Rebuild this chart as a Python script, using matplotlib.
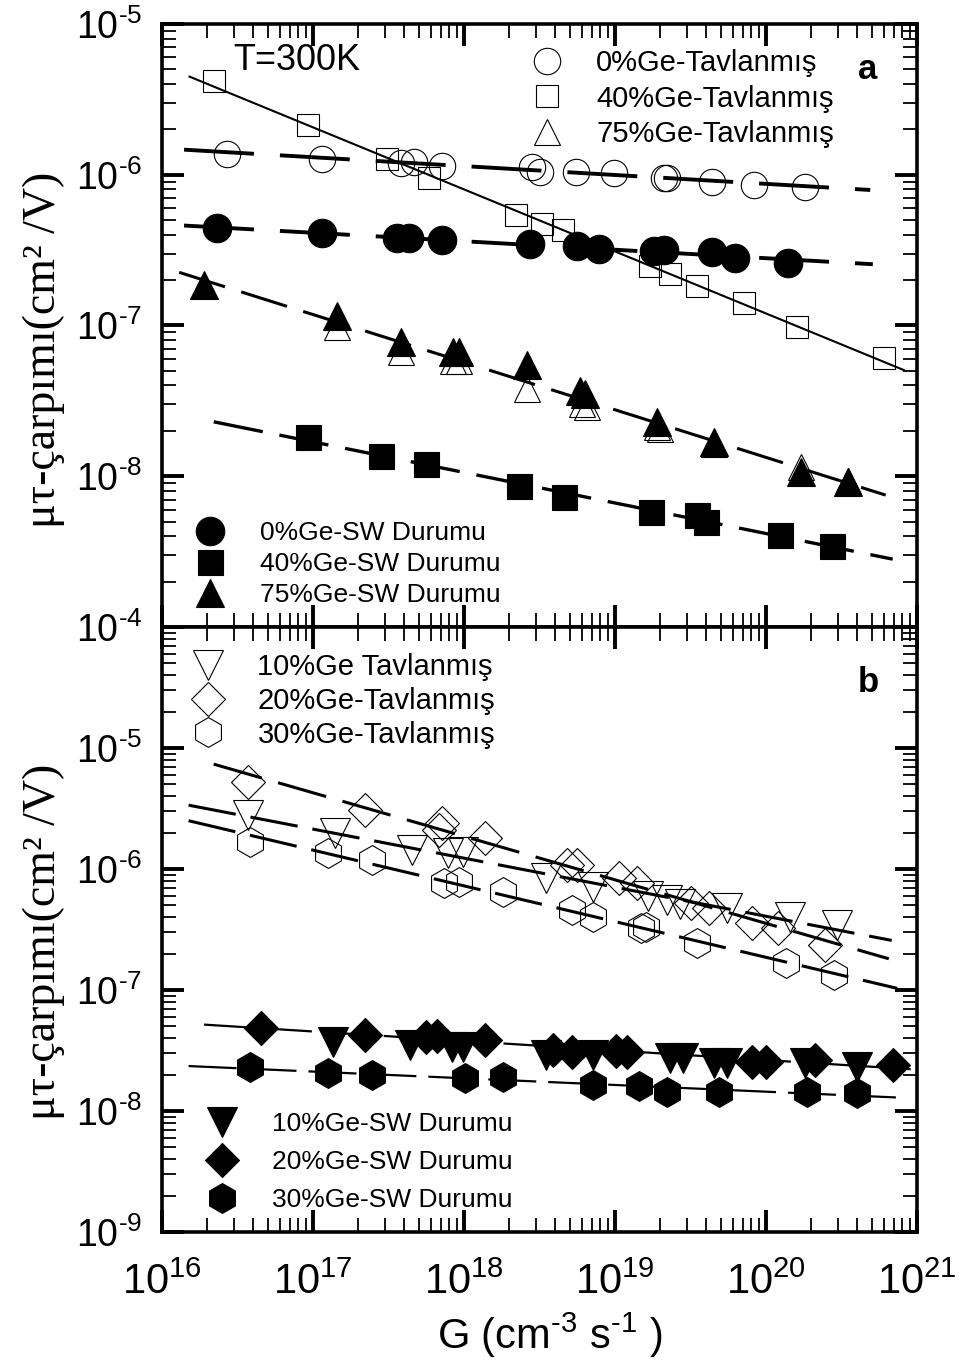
import numpy as np
import matplotlib
matplotlib.use("Agg")
import matplotlib.pyplot as plt
from matplotlib.lines import Line2D
from matplotlib.ticker import LogLocator, NullFormatter
from matplotlib import font_manager

_names = {f.name for f in font_manager.fontManager.ttflist}
NARROW = 'Liberation Sans Narrow' if 'Liberation Sans Narrow' in _names else 'Liberation Sans'

plt.rcParams['font.family'] = ['Liberation Sans', 'DejaVu Sans']
plt.rcParams['mathtext.fontset'] = 'custom'
plt.rcParams['mathtext.rm'] = 'Liberation Sans'
plt.rcParams['mathtext.it'] = 'Liberation Sans'
plt.rcParams['mathtext.sf'] = NARROW

# ---------------- panel a data ----------------
g_ann0 = [2.7e16, 1.15e17, 3.8e17, 4.7e17, 7.2e17, 2.8e18, 3.2e18, 5.5e18, 9.8e18, 2.1e19, 2.2e19, 4.4e19, 8.3e19, 1.8e20]
mt_ann0 = [1.38e-6, 1.28e-6, 1.20e-6, 1.22e-6, 1.15e-6, 1.13e-6, 1.05e-6, 1.05e-6, 1.03e-6, 9.5e-7, 9.5e-7, 9.0e-7, 8.6e-7, 8.3e-7]

g_sw0 = [2.3e16, 1.15e17, 3.6e17, 4.3e17, 7.1e17, 2.75e18, 5.6e18, 7.8e18, 1.8e19, 2.1e19, 4.4e19, 6.2e19, 1.4e20]
mt_sw0 = [4.4e-7, 4.1e-7, 3.8e-7, 3.8e-7, 3.7e-7, 3.45e-7, 3.35e-7, 3.2e-7, 3.1e-7, 3.15e-7, 3.05e-7, 2.8e-7, 2.6e-7]

g_ann40 = [2.2e16, 9.3e16, 3.1e17, 5.9e17, 2.2e18, 3.3e18, 4.5e18, 1.7e19, 2.3e19, 3.5e19, 7.1e19, 1.6e20, 6.0e20]
mt_ann40 = [4.2e-6, 2.14e-6, 1.28e-6, 9.5e-7, 5.4e-7, 4.7e-7, 4.3e-7, 2.5e-7, 2.2e-7, 1.84e-7, 1.42e-7, 9.8e-8, 6.1e-8]

g_sw40 = [9.3e16, 2.8e17, 5.6e17, 2.3e18, 4.6e18, 1.74e19, 3.5e19, 4.0e19, 1.23e20, 2.75e20]
mt_sw40 = [1.81e-8, 1.36e-8, 1.2e-8, 8.6e-9, 7.3e-9, 5.8e-9, 5.5e-9, 4.95e-9, 4.06e-9, 3.44e-9]

g_sw75 = [1.9e16, 1.45e17, 3.8e17, 8.5e17, 9.3e17, 2.6e18, 5.9e18, 6.3e18, 1.9e19, 4.5e19, 1.7e20, 3.5e20]
mt_sw75 = [1.87e-7, 1.15e-7, 7.8e-8, 6.7e-8, 6.7e-8, 5.5e-8, 3.65e-8, 3.5e-8, 2.3e-8, 1.7e-8, 1.06e-8, 9.1e-9]

g_ann75 = [1.45e17, 3.8e17, 8.5e17, 9.3e17, 2.6e18, 6.0e18, 6.5e18, 1.9e19, 2.0e19, 4.5e19, 1.7e20, 3.5e20]
mt_ann75 = [9.7e-8, 6.7e-8, 5.8e-8, 5.8e-8, 3.77e-8, 3.0e-8, 2.86e-8, 2.11e-8, 2.05e-8, 1.63e-8, 1.15e-8, 9.3e-9]

# ---------------- panel b data ----------------
g_ann20 = [3.7e16, 2.2e17, 6.8e17, 7.2e17, 1.38e18, 4.8e18, 5.6e18, 1.07e19, 1.4e19, 3.2e19, 4.2e19, 8.1e19, 1.2e20, 2.45e20]
mt_ann20 = [5.2e-6, 3.1e-6, 2.1e-6, 2.4e-6, 1.8e-6, 1.08e-6, 1.08e-6, 8.4e-7, 7.7e-7, 5.2e-7, 4.8e-7, 3.6e-7, 3.25e-7, 2.35e-7]

g_ann10 = [3.7e16, 1.4e17, 4.5e17, 7.8e17, 9.8e17, 3.5e18, 7.1e18, 1.66e19, 2.2e19, 2.7e19, 5.5e19, 1.45e20, 2.95e20]
mt_ann10 = [2.8e-6, 2.0e-6, 1.44e-6, 1.36e-6, 1.38e-6, 8.4e-7, 7.1e-7, 6.0e-7, 5.5e-7, 5.1e-7, 4.8e-7, 4.0e-7, 3.45e-7]

g_ann30 = [3.8e16, 1.26e17, 2.45e17, 7.4e17, 9.3e17, 1.8e18, 5.2e18, 7.1e18, 1.48e19, 1.6e19, 3.5e19, 1.35e20, 2.8e20]
mt_ann30 = [1.67e-6, 1.36e-6, 1.19e-6, 7.7e-7, 7.8e-7, 6.5e-7, 4.6e-7, 4.0e-7, 3.25e-7, 3.3e-7, 2.45e-7, 1.67e-7, 1.33e-7]

g_sw20 = [4.5e16, 2.2e17, 5.6e17, 6.6e17, 1.38e18, 3.9e18, 5.2e18, 1.02e19, 1.2e19, 8.1e19, 1.0e20, 2.1e20, 6.9e20]
mt_sw20 = [4.85e-8, 4.25e-8, 4.1e-8, 4.15e-8, 3.85e-8, 3.2e-8, 3.08e-8, 3.13e-8, 3.08e-8, 2.54e-8, 2.54e-8, 2.64e-8, 2.4e-8]

g_sw10 = [1.35e17, 4.4e17, 8.3e17, 9.8e17, 3.5e18, 7.1e18, 2.3e19, 2.8e19, 4.5e19, 5.5e19, 1.8e20, 4.0e20]
mt_sw10 = [3.7e-8, 3.5e-8, 3.38e-8, 3.38e-8, 2.9e-8, 2.9e-8, 2.74e-8, 2.74e-8, 2.5e-8, 2.5e-8, 2.5e-8, 2.3e-8]

g_sw30 = [3.8e16, 1.26e17, 2.45e17, 1.02e18, 1.8e18, 7.1e18, 1.45e19, 2.2e19, 4.9e19, 1.86e20, 4.0e20]
mt_sw30 = [2.3e-8, 2.06e-8, 1.99e-8, 1.87e-8, 1.91e-8, 1.64e-8, 1.61e-8, 1.44e-8, 1.44e-8, 1.44e-8, 1.41e-8]

# x-extent of the power-law fit lines
span_ann0 = (1.4e16, 4.9e20)
span_sw0 = (1.4e16, 5.1e20)
span_ann40 = (1.5e16, 8.3e20)
span_75 = (1.3e16, 6.2e20)
span_sw40 = (2.2e16, 6.9e20)
span_ann20 = (2.2e16, 6.5e20)
span_ann10 = (1.5e16, 6.8e20)
span_ann30 = (1.5e16, 7.4e20)
span_sw20 = (1.9e16, 9.3e20)
span_sw30 = (1.5e16, 7.8e20)

top_legend1 = ['0%Ge-Tavlanmış', '40%Ge-Tavlanmış', '75%Ge-Tavlanmış']
top_legend2 = ['0%Ge-SW Durumu', '40%Ge-SW Durumu', '75%Ge-SW Durumu']
bot_legend1 = ['10%Ge Tavlanmış', '20%Ge-Tavlanmış', '30%Ge-Tavlanmış']
bot_legend2 = ['10%Ge-SW Durumu', '20%Ge-SW Durumu', '30%Ge-SW Durumu']

W, H = 959, 1365
DPI = 100


def dash(lw, on_px, off_px):
    lw_px = lw * DPI / 72.0
    return (on_px / lw_px, off_px / lw_px)


def fit_line(ax, gx, gy, span, lw, dashes=None):
    p = np.polyfit(np.log10(gx), np.log10(gy), 1)
    xs = np.array(span)
    ys = 10 ** np.polyval(p, np.log10(xs))
    (ln,) = ax.plot(xs, ys, color='k', lw=lw, zorder=4, solid_capstyle='butt')
    if dashes is not None:
        ln.set_dashes(dashes)
        ln.set_dash_capstyle('butt')
    return ln


def open_pts(ax, gx, gy, marker, ms):
    ax.plot(gx, gy, ls='none', marker=marker, ms=ms, mfc='none', mec='k', mew=0.8, zorder=2)


def full_pts(ax, gx, gy, marker, ms):
    ax.plot(gx, gy, ls='none', marker=marker, ms=ms, mfc='k', mec='k', mew=0.8, zorder=3)


def handle(marker, ms, filled):
    return Line2D([], [], ls='none', marker=marker, ms=ms, mec='k', mew=0.8,
                  mfc='k' if filled else 'none')


def exp_label(e, sf=False):
    s = r'10^{\text{%d}}' % e
    if sf:
        s = r'\mathsf{%s}' % s
    return '$' + s + '$'


def style_axes(ax, ymin, ymax, ylabels):
    ax.set_xscale('log')
    ax.set_yscale('log')
    ax.set_xlim(1e16, 1e21)
    ax.set_ylim(ymin, ymax)
    for s in ax.spines.values():
        s.set_linewidth(2.6)
    ax.xaxis.set_minor_locator(LogLocator(base=10, subs=np.arange(2, 10), numticks=50))
    ax.yaxis.set_minor_locator(LogLocator(base=10, subs=np.arange(2, 10), numticks=50))
    ax.xaxis.set_minor_formatter(NullFormatter())
    ax.yaxis.set_minor_formatter(NullFormatter())
    ax.tick_params(which='major', direction='in', length=16, width=2.8, top=True, right=True)
    ax.tick_params(which='minor', direction='in', length=10, width=1.3, top=True, right=True)
    yt = [10.0 ** e for e in range(int(round(np.log10(ymin))), int(round(np.log10(ymax))) + 1)]
    ax.set_yticks(yt)
    ax.set_yticklabels(ylabels)
    ax.tick_params(axis='y', which='major', labelsize=27, pad=14)


fig = plt.figure(figsize=(W / DPI, H / DPI), dpi=DPI)
ax1 = fig.add_axes([162 / W, 1 - 627 / H, 755 / W, 603 / H])
ax2 = fig.add_axes([162 / W, 1 - 1232 / H, 755 / W, 605 / H])

# ---------------- panel a ----------------
style_axes(ax1, 1e-9, 1e-5, [''] + [exp_label(e) for e in range(-8, -4)])
ax1.tick_params(axis='x', labelbottom=False)

open_pts(ax1, g_ann0, mt_ann0, 'o', 19)
open_pts(ax1, g_ann40, mt_ann40, 's', 16)
open_pts(ax1, g_ann75, mt_ann75, '^', 19)
full_pts(ax1, g_sw0, mt_sw0, 'o', 20.5)
full_pts(ax1, g_sw40, mt_sw40, 's', 18)
full_pts(ax1, g_sw75, mt_sw75, '^', 20)

fit_line(ax1, g_ann0, mt_ann0, span_ann0, 2.8, dash(2.8, 70, 26))
fit_line(ax1, g_sw0, mt_sw0, span_sw0, 2.8, dash(2.8, 70, 26))
fit_line(ax1, g_ann40, mt_ann40, span_ann40, 1.5)
fit_line(ax1, g_sw75 + g_ann75, mt_sw75 + mt_ann75, span_75, 2.2, dash(2.2, 48, 17))
fit_line(ax1, g_sw40, mt_sw40, span_sw40, 2.4, dash(2.4, 50, 17))

leg = ax1.legend([handle('o', 19, False), handle('s', 16, False), handle('^', 19, False)], top_legend1,
                 loc='upper left', bbox_to_anchor=(532 / W, 1 - 49 / H), bbox_transform=fig.transFigure,
                 frameon=False, fontsize=21, handlelength=1.0, handletextpad=1.2, labelspacing=0.26,
                 borderpad=0, borderaxespad=0)
ax1.add_artist(leg)
ax1.legend([handle('o', 20.5, True), handle('s', 18, True), handle('^', 20, True)], top_legend2,
           loc='upper left', bbox_to_anchor=(197 / W, 1 - 521 / H), bbox_transform=fig.transFigure,
           frameon=False, fontsize=19, handlelength=1.0, handletextpad=1.39, labelspacing=0.27,
           borderpad=0, borderaxespad=0)

ax1.text(0.095, 0.94, 'T=300K', transform=ax1.transAxes, fontsize=26, va='center', ha='left')
ax1.text(0.935, 0.924, 'a', transform=ax1.transAxes, fontsize=25, fontweight='bold', va='center', ha='center')

# ---------------- panel b ----------------
style_axes(ax2, 1e-9, 1e-4, [exp_label(e) for e in range(-9, -3)])
xt = [10.0 ** e for e in range(16, 22)]
ax2.set_xticks(xt)
ax2.set_xticklabels([exp_label(e, sf=True) for e in range(16, 22)])
ax2.tick_params(axis='x', which='major', labelsize=30, pad=22)

open_pts(ax2, g_ann10, mt_ann10, 'v', 21.5)
open_pts(ax2, g_ann20, mt_ann20, 'D', 17.5)
open_pts(ax2, g_ann30, mt_ann30, 'h', 21.5)
full_pts(ax2, g_sw10, mt_sw10, 'v', 21.5)
full_pts(ax2, g_sw20, mt_sw20, 'D', 17.5)
full_pts(ax2, g_sw30, mt_sw30, 'h', 21.5)

fit_line(ax2, g_ann20, mt_ann20, span_ann20, 2.2, dash(2.2, 50, 17))
fit_line(ax2, g_ann10, mt_ann10, span_ann10, 2.2, dash(2.2, 48, 15))
fit_line(ax2, g_ann30, mt_ann30, span_ann30, 2.2, dash(2.2, 48, 15))
fit_line(ax2, g_sw20, mt_sw20, span_sw20, 1.6, dash(1.6, 48, 12))
fit_line(ax2, g_sw30, mt_sw30, span_sw30, 1.6, dash(1.6, 48, 12))

leg = ax2.legend([handle('v', 21.5, False), handle('D', 17.5, False), handle('h', 21.5, False)], bot_legend1,
                 loc='upper left', bbox_to_anchor=(193 / W, 1 - 653 / H), bbox_transform=fig.transFigure,
                 frameon=False, fontsize=21, handlelength=1.0, handletextpad=1.21, labelspacing=0.2,
                 borderpad=0, borderaxespad=0)
ax2.add_artist(leg)
ax2.legend([handle('v', 21.5, True), handle('D', 17.5, True), handle('h', 21.5, True)], bot_legend2,
           loc='upper left', bbox_to_anchor=(209 / W, 1 - 1112 / H), bbox_transform=fig.transFigure,
           frameon=False, fontsize=19, handlelength=1.0, handletextpad=1.39, labelspacing=0.53,
           borderpad=0, borderaxespad=0)

ax2.text(0.935, 0.909, 'b', transform=ax2.transAxes, fontsize=25, fontweight='bold', va='center', ha='center')

# ---------------- axis labels ----------------
ylab = 'μτ-çarpımı(cm² /V)'
fig.text(44 / W, 1 - 350 / H, ylab, rotation=90, fontsize=33, family=['Liberation Serif', 'DejaVu Serif'],
         ha='center', va='center')
fig.text(44 / W, 1 - 942 / H, ylab, rotation=90, fontsize=33, family=['Liberation Serif', 'DejaVu Serif'],
         ha='center', va='center')
fig.text(550 / W, 1 - 1335 / H, r'G (cm$\mathsf{^{\text{-3}}}$ s$\mathsf{^{\text{-1}}}$ )', fontsize=30,
         family=[NARROW, 'DejaVu Sans'], ha='center', va='center')

fig.savefig('out.png', dpi=DPI)
